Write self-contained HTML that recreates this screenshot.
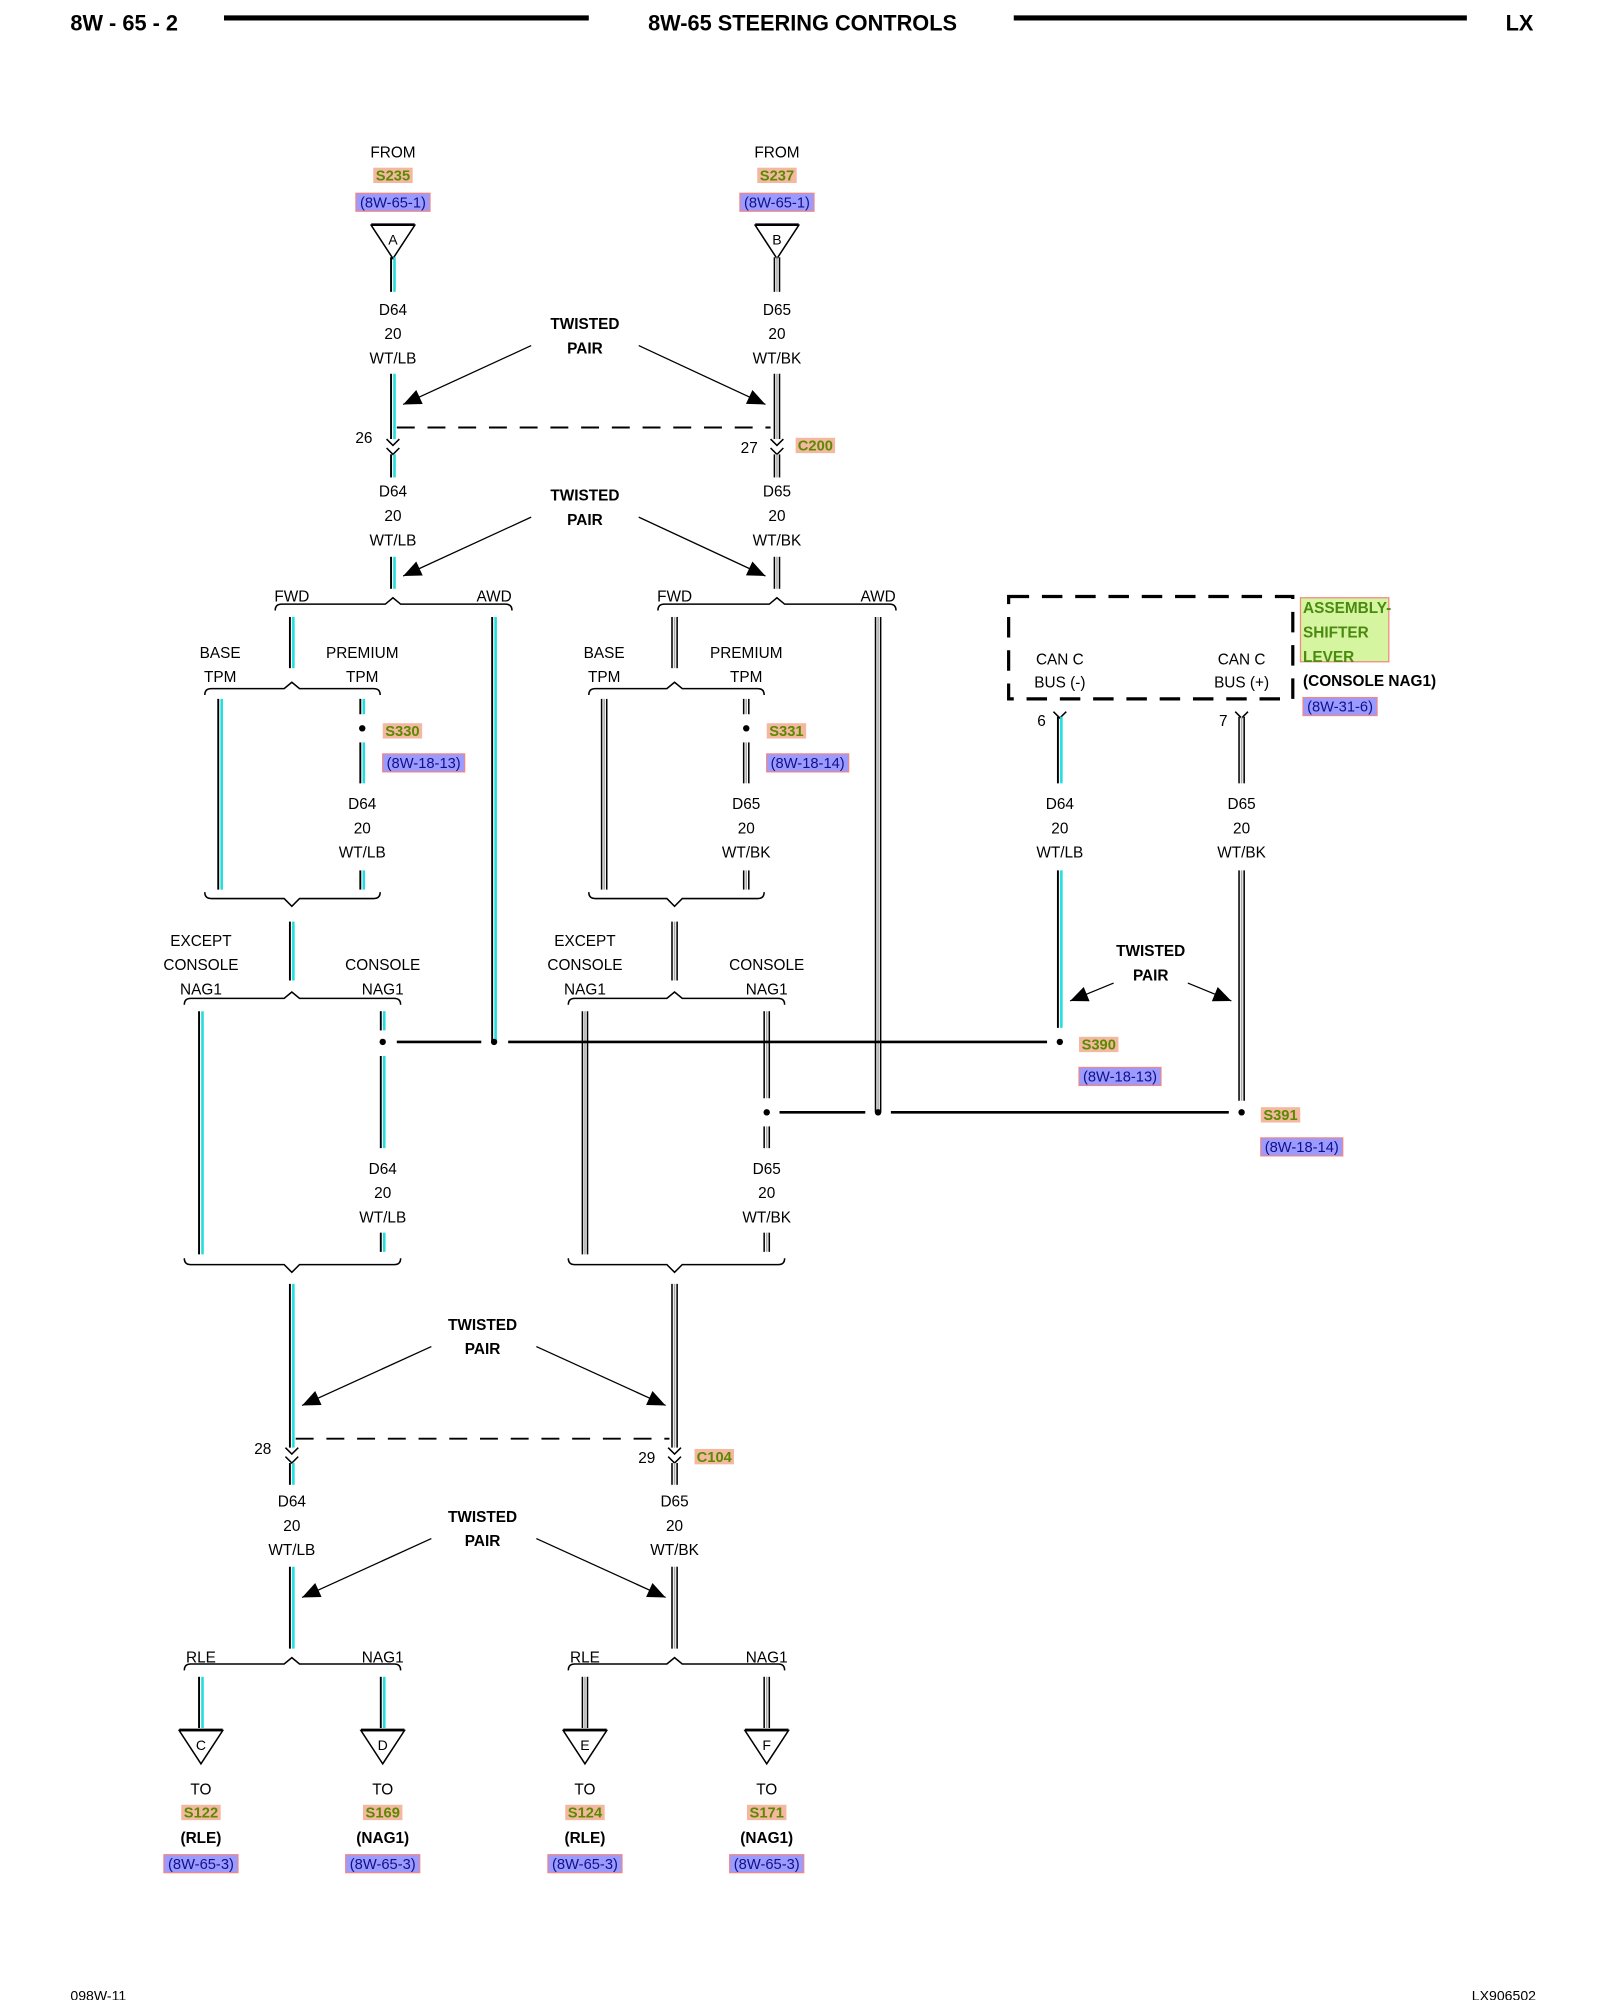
<!DOCTYPE html>
<html><head><meta charset="utf-8"><style>
html,body{margin:0;padding:0;background:#fff;}
svg{display:block;}
text{font-family:"Liberation Sans",sans-serif;}
</style></head><body>
<svg id="s" width="1600" height="2000" viewBox="0 0 1250 1562.5" xmlns="http://www.w3.org/2000/svg"></svg>
<script>
var o=[];
function t(x,y,s,opt){opt=opt||{};o.push('<text x="'+x+'" y="'+y+'" font-size="'+(opt.fs||12)+'" text-anchor="'+(opt.a||'middle')+'" font-weight="'+(opt.b?'bold':'normal')+'" fill="'+(opt.c||'#000')+'">'+s+'</text>');}
function L(x1,y1,x2,y2,c,w,d){o.push('<line x1="'+x1+'" y1="'+y1+'" x2="'+x2+'" y2="'+y2+'" stroke="'+(c||'#000')+'" stroke-width="'+(w||1.2)+'"'+(d?' stroke-dasharray="'+d+'"':'')+'/>');}
function w(x,y1,y2,cy){if(cy){L(x-1.5,y1,x-1.5,y2,'#000',1.5);L(x+1.2,y1,x+1.2,y2,'#2dd',2);}else{L(x-2,y1,x-2,y2,'#000',1.2);L(x,y1,x,y2,'#aaa',1.2);L(x+2,y1,x+2,y2,'#000',1.2);}}
function P(d,f){o.push('<path d="'+d+'" fill="'+(f||'none')+'" stroke="#000" stroke-width="1.2"/>');}
function bt(x1,x2,xc,y){P('M'+x1+' '+(y+5)+' Q'+x1+' '+y+' '+(x1+5)+' '+y+' L'+(xc-6)+' '+y+' L'+xc+' '+(y-5)+' L'+(xc+6)+' '+y+' L'+(x2-5)+' '+y+' Q'+x2+' '+y+' '+x2+' '+(y+5));}
function bb(x1,x2,xc,y){P('M'+x1+' '+(y-5)+' Q'+x1+' '+y+' '+(x1+5)+' '+y+' L'+(xc-6)+' '+y+' L'+xc+' '+(y+6)+' L'+(xc+6)+' '+y+' L'+(x2-5)+' '+y+' Q'+x2+' '+y+' '+x2+' '+(y-5));}
function dot(x,y){o.push('<circle cx="'+x+'" cy="'+y+'" r="2.5" fill="#000"/>');}
function chev(x,y){P('M'+(x-5)+' '+y+' L'+x+' '+(y+5)+' L'+(x+5)+' '+y);}
function tri(x,y,l){P('M'+(x-17)+' '+y+' L'+(x+17)+' '+y+' L'+x+' '+(y+26)+' Z','#fff');L(x-17,y-0.5,x+17,y-0.5,'#000',2);t(x,y+15,l,{fs:11});}
function lab3(x,y,a,b,c){t(x,y,a);t(x,y+19,b);t(x,y+38,c);}
function lab3b(x,y,a,b){t(x,y,a);t(x,y+19,b);}
function sl(x,y,s,a){var wd=s.length*7.2+2;var x0=a=='start'?x:x-wd/2;o.push('<rect x="'+x0+'" y="'+(y-10)+'" width="'+wd+'" height="12" fill="#f4b8a0"/>');t(x0+wd/2,y,s,{fs:11.5,b:1,c:'#5a8a00'});}
function rf(x,y,s,a){var wd=s.length*6.2+2;var x0=a=='start'?x:x-wd/2;o.push('<rect x="'+x0+'" y="'+(y-11)+'" width="'+wd+'" height="14" fill="#9a9aff" stroke="#e88" stroke-width="1"/>');t(x0+wd/2,y,s,{fs:11.5,c:'#10108a'});}
function arr(x1,y1,x2,y2){L(x1,y1,x2,y2,'#000',1);var a=Math.atan2(y2-y1,x2-x1),s=14,h=6;var bx=x2-s*Math.cos(a),by=y2-s*Math.sin(a);o.push('<polygon points="'+x2+','+y2+' '+(bx+h*Math.sin(a))+','+(by-h*Math.cos(a))+' '+(bx-h*Math.sin(a))+','+(by+h*Math.cos(a))+'" fill="#000"/>');}
function tp(x,y){t(x,y,'TWISTED',{b:1});t(x,y+19,'PAIR',{b:1});}
t(55,24,'8W - 65 - 2',{a:'start',fs:17,b:1});L(175,14,460,14,'#000',4);
t(627,24,'8W-65 STEERING CONTROLS',{fs:17,b:1});L(792,14,1146,14,'#000',4);
t(1198,24,'LX',{a:'end',fs:17,b:1});
t(55,1563,'098W-11',{a:'start',fs:11});t(1200,1563,'LX906502',{a:'end',fs:11});
[[307,'A','S235',true,'D64','WT/LB','26',228,386,172,283,157,299,'S330','(8W-18-13)'],[607,'B','S237',false,'D65','WT/BK','27',527,686,472,583,457,599,'S331','(8W-18-14)']].forEach(function(c,i){
var X=c[0],cy=c[3];
t(X,123,'FROM');sl(X,141,c[2]);rf(X,162,'(8W-65-1)');
tri(X,176,c[1]);w(X,201,228,cy);lab3(X,246,c[4],'20',c[5]);
w(X,292,343,cy);chev(X,343);chev(X,350);w(X,355,373,cy);
t(i?592:291,(i?354:346),c[6],{a:'end'});
lab3(X,388,c[4],'20',c[5]);w(X,435,460,cy);
var f=c[7],aw=c[8],b=c[9],p=c[10],e=c[11],cs=c[12];
bt(f-13,aw+14,X,472);t(f,470,'FWD');t(aw,470,'AWD');
w(f,482,522,cy);
w(aw,482,i?869:814,cy);
bt(b-12,p+14,f,538);lab3b(b,514,'BASE','TPM');lab3b(p,514,'PREMIUM','TPM');
w(b,546,695,cy);w(p,546,558,cy);dot(p,569);w(p,580,612,cy);sl(p+16,575,c[13],'start');rf(p+16,600,c[14],'start');
lab3(p,632,c[4],'20',c[5]);w(p,680,695,cy);
bb(b-12,p+14,f,702);w(f,720,766,cy);
bt(e-13,cs+14,f,780);t(e,739,'EXCEPT');t(e,758,'CONSOLE');t(e,777,'NAG1');t(cs,758,'CONSOLE');t(cs,777,'NAG1');
w(e,790,980,cy);
if(i==0){w(cs,790,805,cy);dot(cs,814);w(cs,825,897,cy);}else{w(cs,790,858,cy);dot(cs,869);w(cs,880,897,cy);}
lab3(cs,917,c[4],'20',c[5]);w(cs,963,978,cy);
bb(e-13,cs+14,f,988);
w(f,1003,1131,cy);chev(f,1131);chev(f,1138);w(f,1143,1160,cy);
lab3(f,1177,c[4],'20',c[5]);w(f,1224,1288,cy);
bt(e-13,cs+14,f,1300);t(e,1299,'RLE');t(cs,1299,'NAG1');
w(e,1310,1350,cy);w(cs,1310,1350,cy);
tri(e,1352,i?'E':'C');tri(cs,1352,i?'F':'D');
var tg=i?['S124','S171']:['S122','S169'];
t(e,1402,'TO');sl(e,1420,tg[0]);t(e,1440,'(RLE)',{b:1});rf(e,1460,'(8W-65-3)');
t(cs,1402,'TO');sl(cs,1420,tg[1]);t(cs,1440,'(NAG1)',{b:1});rf(cs,1460,'(8W-65-3)');
});
L(310,334,602,334,'#000',1.5,'14 10');L(231,1124,523,1124,'#000',1.5,'14 10');
sl(637,352,'C200');sl(558,1142,'C104');t(212,1136,'28',{a:'end'});t(512,1143,'29',{a:'end'});
tp(457,257);arr(415,270,315,316);arr(499,270,598,316);
tp(457,391);arr(415,404,315,450);arr(499,404,598,450);
tp(377,1039);arr(337,1052,236,1098);arr(419,1052,520,1098);
tp(377,1189);arr(337,1202,236,1248);arr(419,1202,520,1248);
tp(899,747);arr(870,768,836,782);arr(928,768,962,782);
L(310,814,376,814,'#000',2);L(397,814,818,814,'#000',2);dot(386,814);dot(828,814);
L(609,869,676,869,'#000',2);L(696,869,960,869,'#000',2);dot(686,869);dot(970,869);
o.push('<rect x="788" y="466" width="222" height="80" fill="none" stroke="#000" stroke-width="2.5" stroke-dasharray="16 10"/>');
t(828,519,'CAN C');t(828,537,'BUS (-)');t(970,519,'CAN C');t(970,537,'BUS (+)');
chev(828,556);chev(970,556);t(817,567,'6',{a:'end'});t(959,567,'7',{a:'end'});
w(828,560,612,true);w(970,560,612,false);
lab3(828,632,'D64','20','WT/LB');lab3(970,632,'D65','20','WT/BK');
w(828,680,803,true);w(970,680,860,false);
sl(843,820,'S390','start');rf(843,845,'(8W-18-13)','start');
sl(985,875,'S391','start');rf(985,900,'(8W-18-14)','start');
o.push('<rect x="1016" y="467" width="69" height="50" fill="#d6f5a0" stroke="#f08a80" stroke-width="1"/>');
t(1018,479,'ASSEMBLY-',{a:'start',b:1,c:'#4a8a10'});t(1018,498,'SHIFTER',{a:'start',b:1,c:'#4a8a10'});t(1018,517,'LEVER',{a:'start',b:1,c:'#4a8a10'});
t(1018,536,'(CONSOLE NAG1)',{a:'start',b:1});rf(1018,556,'(8W-31-6)','start');
document.getElementById('s').innerHTML=o.join('');
</script>
</body></html>
